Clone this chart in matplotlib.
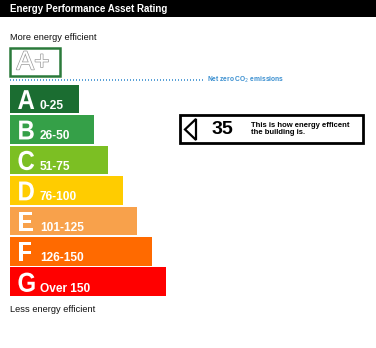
import matplotlib
matplotlib.use("Agg")
import matplotlib.pyplot as plt
from matplotlib.patches import Rectangle, Polygon, PathPatch
from matplotlib.textpath import TextPath
from matplotlib.font_manager import FontProperties
from matplotlib.transforms import Affine2D
import matplotlib.patheffects as pe

plt.rcParams['font.family'] = ['Liberation Sans', 'DejaVu Sans']

# ---- data ----
bands = ['A', 'B', 'C', 'D', 'E', 'F', 'G']
ranges = ['0-25', '26-50', '51-75', '76-100', '101-125', '126-150', 'Over 150']
upper_bounds = [25, 50, 75, 100, 125, 150, 10**9]
colors = ['#1b6d31', '#35a048', '#7cbf23', '#ffcc00', '#f8a14b', '#ff6a00', '#ff0000']
score = 35
title = 'Energy Performance Asset Rating'
top_label = 'More energy efficient'
bottom_label = 'Less energy efficient'
net_zero = 'Net zero CO$_2$ emissions'
pointer_text = 'This is how energy efficent\nthe building is.'

# ---- layout ----
W, H = 376, 348
fig = plt.figure(figsize=(W / 100, H / 100), dpi=100)
ax = fig.add_axes([0, 0, 1, 1])
ax.set_xlim(0, W)
ax.set_ylim(H, 0)
ax.axis('off')

# header
ax.add_patch(Rectangle((0, 0), W, 17, facecolor='black', edgecolor='none'))
ax.text(10, 9, title, color='white', fontsize=7.0, fontweight='bold', va='center', ha='left')

ax.text(10, 37.5, top_label, color='#111111', fontsize=6.7, va='center', ha='left')

# A+ box
ax.add_patch(Rectangle((10, 47.5), 50, 28.5, facecolor='white', edgecolor='#2b7a3b', lw=1.8))
ax.text(33, 62.5, 'A+', fontsize=19, color='white', va='center', ha='center',
        path_effects=[pe.withStroke(linewidth=1.0, foreground='#9a9a9a')])

# net zero dotted line
ax.plot([10, 205], [80, 80], linestyle=(0, (0.6, 1.2)), color='#3a8fd0', lw=1.2)
ax.text(207, 80, net_zero, color='#3a8fd0', fontsize=4.8, fontweight='bold', va='center', ha='left')

# bars
x0 = 10
base_w, step_w = 69, 14.5
y0, pitch, bar_h = 99, 30.45, 28.5
centers = [y0 + pitch * i for i in range(len(bands))]
widths = [base_w + step_w * i for i in range(len(bands))]
ax.barh(centers, widths, left=x0, height=bar_h, color=colors, edgecolor='none')
bold = FontProperties(family='Liberation Sans', weight='bold')
for c, b, r in zip(centers, bands, ranges):
    tp = TextPath((0, 0), b, size=24, prop=bold)
    tr = Affine2D().scale(1.0, -1.14).translate(17.5, c + 10)
    ax.add_patch(PathPatch(tr.transform_path(tp), facecolor='white', edgecolor='none'))
    ax.text(40, c + 10, r, color='white', fontsize=8.6, fontweight='bold', va='baseline', ha='left')

ax.text(10, 309.5, bottom_label, color='#111111', fontsize=6.7, va='center', ha='left')

# pointer box at the rating's band
idx = next(i for i, ub in enumerate(upper_bounds) if score <= ub)
cy = centers[idx]
bx0, bx1 = 180, 363
ax.add_patch(Rectangle((bx0, cy - 14), bx1 - bx0, 28, facecolor='white', edgecolor='black', lw=2))
ax.add_patch(Polygon([(185, cy), (196, cy - 10.5), (196, cy + 10.5)], closed=True,
                     facecolor='white', edgecolor='black', lw=1.6, joinstyle='miter'))
ax.text(222, cy + 0.5, str(score), fontsize=14, fontweight='bold', color='black', va='center', ha='center')
ax.text(251, cy - 0.5, pointer_text, fontsize=5.5, fontweight='bold', color='black', va='center', ha='left',
        linespacing=0.95)

fig.savefig('out.png', dpi=100)
